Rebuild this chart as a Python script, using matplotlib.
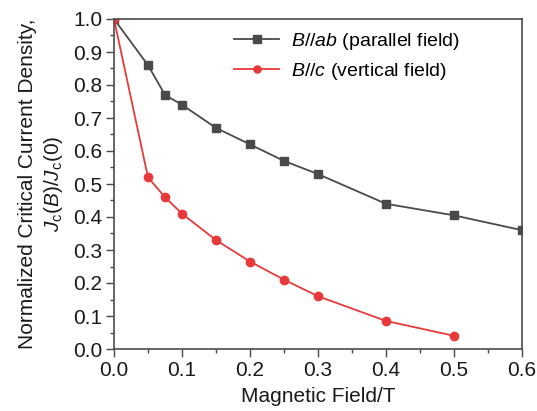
import matplotlib
matplotlib.use("Agg")
import matplotlib.pyplot as plt
from matplotlib.ticker import MultipleLocator

plt.rcParams['font.family'] = ['Liberation Sans', 'DejaVu Sans']
plt.rcParams['mathtext.fontset'] = 'custom'
plt.rcParams['mathtext.rm'] = 'Liberation Sans'
plt.rcParams['mathtext.it'] = 'Liberation Sans:italic'

# Datos
campo_ab = [0.0, 0.05, 0.075, 0.1, 0.15, 0.2, 0.25, 0.3, 0.4, 0.5, 0.6]
jc_ab = [1.0, 0.86, 0.77, 0.74, 0.67, 0.62, 0.57, 0.53, 0.44, 0.405, 0.36]
campo_c = [0.0, 0.05, 0.075, 0.1, 0.15, 0.2, 0.25, 0.3, 0.4, 0.5]
jc_c = [1.0, 0.52, 0.46, 0.41, 0.33, 0.265, 0.21, 0.16, 0.085, 0.04]

gris = '#4a4a4a'
rojo = '#e8393b'

fig = plt.figure(figsize=(5.37, 4.11), dpi=100)
ax = fig.add_axes([114 / 537, 62 / 411, 408 / 537, 330 / 411])

ax.plot(campo_ab, jc_ab, color=gris, marker='s', markersize=6, linewidth=1.3,
        label=r'$\mathit{B//ab}$ (parallel field)')
ax.plot(campo_c, jc_c, color=rojo, marker='o', markersize=6, linewidth=1.3,
        label=r'$\mathit{B//c}$ (vertical field)')

ax.set_xlim(0, 0.6)
ax.set_ylim(0, 1.0)
ax.xaxis.set_major_locator(MultipleLocator(0.1))
ax.xaxis.set_minor_locator(MultipleLocator(0.05))
ax.yaxis.set_major_locator(MultipleLocator(0.1))
ax.yaxis.set_minor_locator(MultipleLocator(0.05))
ax.tick_params(which='major', length=5.5, width=1, labelsize=15, colors='#4a4a4a',
               labelcolor='#1a1a1a', pad=3)
ax.tick_params(which='minor', length=3, width=1, colors='#4a4a4a')
for s in ax.spines.values():
    s.set_color('#4a4a4a')
    s.set_linewidth(1.2)

ax.set_xlabel('Magnetic Field/T', fontsize=15, labelpad=5, color='#1a1a1a')
ax.set_ylabel('Normalized Critical Current Density,\n'
              r'$\mathit{J}_\mathrm{c}(\mathit{B})/\mathit{J}_\mathrm{c}(0)$',
              fontsize=15, labelpad=6, linespacing=1.25, color='#1a1a1a')

ax.legend(loc='upper left', bbox_to_anchor=(0.295, 0.965), frameon=False,
          borderpad=0, borderaxespad=0, fontsize=14, handlelength=2.3,
          markerscale=0.85, labelspacing=0.5, handletextpad=0.6)

fig.savefig('out.png', dpi=100)
